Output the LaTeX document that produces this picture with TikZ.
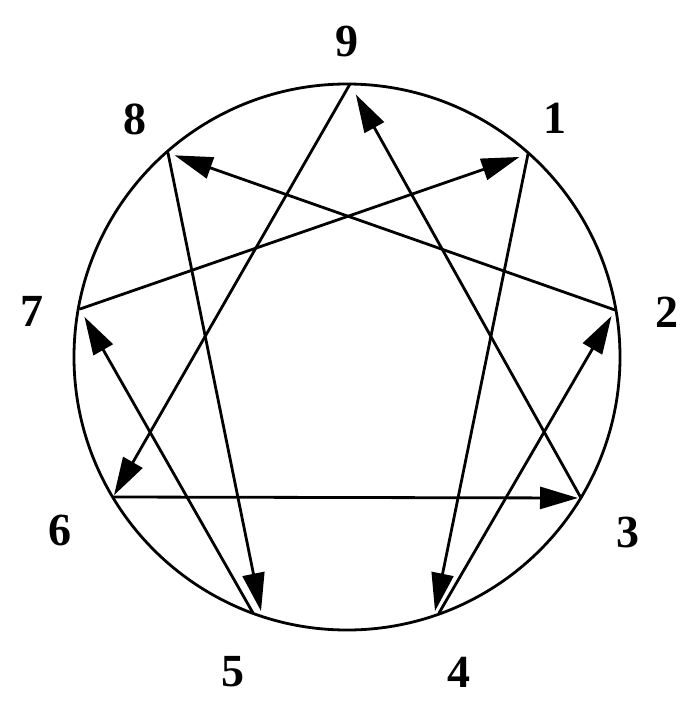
\documentclass[tikz,border=0pt]{standalone}
\usepackage{fontspec}
\setmainfont{Liberation Serif}
\usetikzlibrary{arrows.meta}
\begin{document}
\begin{tikzpicture}[x=1pt,y=-1pt,
  ln/.style={line width=2.8pt, line cap=round, line join=round},
  arr/.style={ln, -{Triangle[length=38pt,width=22pt]}},
  num/.style={font=\fontsize{46}{46}\selectfont\bfseries, inner sep=0pt}]
\useasboundingbox (0,0) rectangle (700,711);
\node[draw, circle, line width=2.8pt, minimum size=546pt, inner sep=0pt] (c) at (347,357) {};
% vertices
\coordinate (p9) at (350,84);
\coordinate (p1) at (528,154);
\coordinate (p2) at (615,310);
\coordinate (p3) at (581,498);
\coordinate (p4) at (439,613);
\coordinate (p5) at (253,613);
\coordinate (p6) at (113,497);
\coordinate (p7) at (80,309);
\coordinate (p8) at (168,153);
\coordinate (e4) at (434,616);
\coordinate (e5) at (262,616);
% labels
\node[num] (l9) at (347,41) {9};
\node[num] (l1) at (555,118) {1};
\node[num] (l2) at (667,312) {2};
\node[num] (l3) at (628,532) {3};
\node[num] (l4) at (459,672) {4};
\node[num] (l5) at (233,672) {5};
\node[num] (l6) at (60,530) {6};
\node[num] (l7) at (32,311) {7};
\node[num] (l8) at (135,119) {8};
% arrows
\draw[arr, shorten >=2pt] (p9) -- (p6);
\draw[arr, shorten >=3pt] (p6) -- (p3);
\draw[arr, shorten >=12pt] (p3) -- (p9);
\draw[arr, shorten >=5pt] (p1) -- (e4);
\draw[arr, shorten >=7pt] (p4) -- (p2);
\draw[arr, shorten >=7pt] (p2) -- (p8);
\draw[arr, shorten >=5pt] (p8) -- (e5);
\draw[arr, shorten >=9pt] (p5) -- (p7);
\draw[arr, shorten >=9pt] (p7) -- (p1);
\end{tikzpicture}
\end{document}
